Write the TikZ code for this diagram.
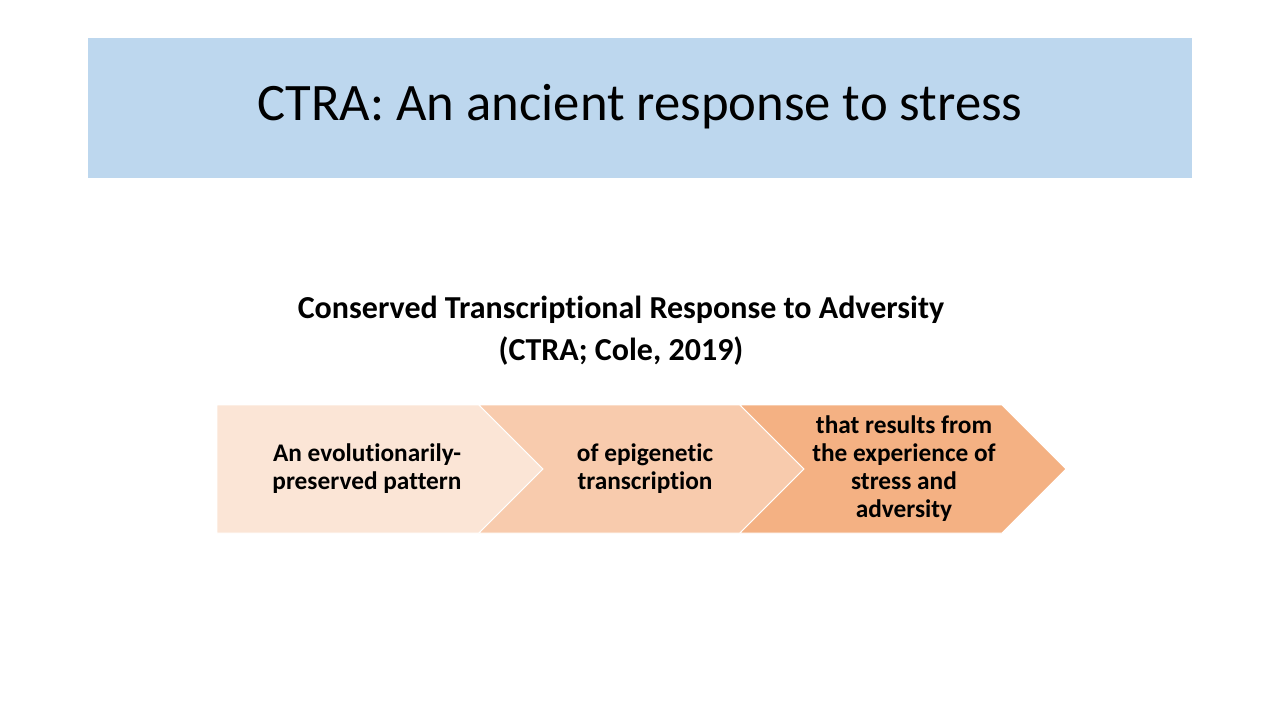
\documentclass[tikz,border=0pt]{standalone}
\usepackage{fontspec}
\setmainfont{Carlito}[Ligatures=NoCommon]
\usetikzlibrary{positioning}
\definecolor{titleblue}{HTML}{BDD7EE}
\definecolor{stepone}{HTML}{FBE5D6}
\definecolor{steptwo}{HTML}{F8CBAD}
\definecolor{stepthree}{HTML}{F4B183}

\begin{document}
\begin{tikzpicture}[x=0.75pt,y=-0.75pt,
  steptext/.style={align=center,font=\fontsize{19}{21}\selectfont\bfseries,inner sep=0pt},
  stepshape/.style={draw=white,line width=0.6pt},
 ]
\useasboundingbox (0,0) rectangle (1280,720);

% title bar
\fill[titleblue] (88,38) rectangle (1192,178);
\node[font=\fontsize{39.5}{48}\selectfont] (title) at (640,107) {CTRA: An ancient response to stress};

\node[align=center,font=\fontsize{24}{31.5}\selectfont\bfseries] (sub) at (621,331)
  {Conserved Transcriptional Response to Adversity\\(CTRA; Cole, 2019)};

% chevrons
\path[stepshape,fill=stepone] (217,405) -- (479,405) -- (543,469) -- (479,533) -- (217,533) -- cycle;
\path[stepshape,fill=steptwo] (479,405) -- (740,405) -- (804,469) -- (740,533) -- (479,533) -- (543,469) -- cycle;
\path[stepshape,fill=stepthree] (740,405) -- (1002,405) -- (1066,469) -- (1002,533) -- (740,533) -- (804,469) -- cycle;

\node[steptext] (S1) at (367,469) {An evolutionarily-\\preserved pattern};
\node[steptext] (S2) at (645,469) {of epigenetic\\transcription};
\node[steptext] (S3) at (904,469) {that results from\\the experience of\\stress and\\adversity};

\end{tikzpicture}
\end{document}
